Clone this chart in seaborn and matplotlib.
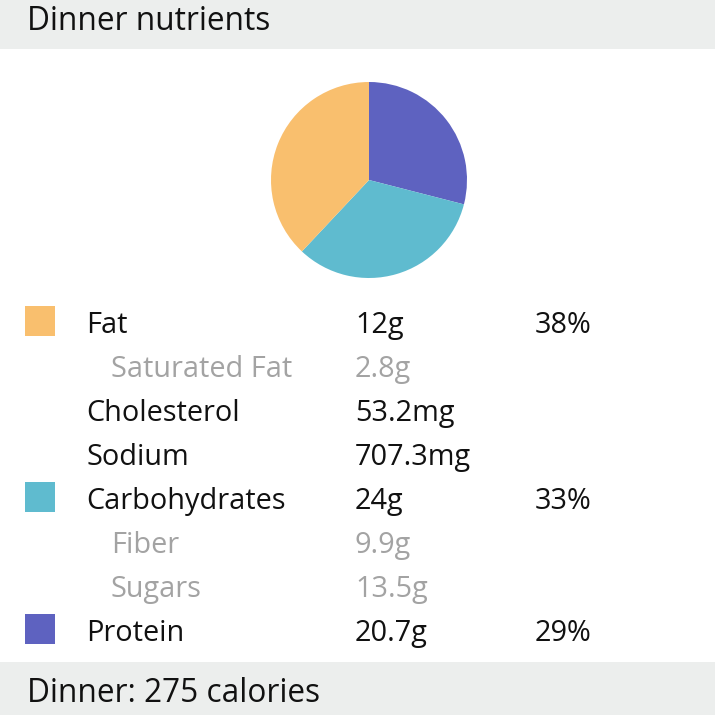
import matplotlib
matplotlib.use("Agg")
import matplotlib.pyplot as plt
import seaborn as sns
from matplotlib.patches import Rectangle

# ---- data ----
title = "Dinner nutrients"
footer = "Dinner: 275 calories"
pie_labels = ["Protein", "Carbohydrates", "Fat"]
pie_values = [29, 33, 38]
pie_colors = ["#5E62C0", "#5FBBCF", "#F9BF6E"]

row_names = ["Fat", "Saturated Fat", "Cholesterol", "Sodium",
             "Carbohydrates", "Fiber", "Sugars", "Protein"]
row_amounts = ["12g", "2.8g", "53.2mg", "707.3mg", "24g", "9.9g", "13.5g", "20.7g"]
row_percents = ["38%", "", "", "", "33%", "", "", "29%"]
row_sub = [False, True, False, False, False, True, True, False]
row_swatch = ["#F9BF6E", None, None, None, "#5FBBCF", None, None, "#5E62C0"]

# ---- style ----
sns.set_theme(style="white")
plt.rcParams['font.family'] = ['Open Sans', 'DejaVu Sans']

W = H = 715
fig = plt.figure(figsize=(7.15, 7.15), dpi=100)
bg = fig.add_axes([0, 0, 1, 1])
bg.set_xlim(0, W)
bg.set_ylim(H, 0)
bg.axis("off")

band = "#ECEEED"
bg.add_patch(Rectangle((0, 0), W, 49, color=band, lw=0))
bg.add_patch(Rectangle((0, 662), W, H - 662, color=band, lw=0))

fs = 20.8
fs_t = 22.8
bg.text(27, 30, title, fontsize=fs_t, color="#111111", va="baseline")
bg.text(27, 702, footer, fontsize=fs_t, color="#111111", va="baseline")

for i, (name, amt, pct, sub, sw) in enumerate(
        zip(row_names, row_amounts, row_percents, row_sub, row_swatch)):
    base = 333 + 44 * i
    col = "#A3A3A3" if sub else "#111111"
    bg.text(111 if sub else 86, base, name, fontsize=fs, color=col, va="baseline")
    bg.text(355, base, amt, fontsize=fs, color=col, va="baseline")
    if pct:
        bg.text(535, base, pct, fontsize=fs, color=col, va="baseline")
    if sw:
        bg.add_patch(Rectangle((25, base - 27), 30, 30, color=sw, lw=0))

# pie
cx, cy, r = 369, 180, 98
pax = fig.add_axes([(cx - r) / W, (H - cy - r) / H, 2 * r / W, 2 * r / H])
pax.pie(pie_values, colors=pie_colors, startangle=90, counterclock=False,
        wedgeprops=dict(linewidth=0))
pax.set_xlim(-1, 1)
pax.set_ylim(-1, 1)
pax.set_aspect("equal")

fig.savefig("out.png", dpi=100)
